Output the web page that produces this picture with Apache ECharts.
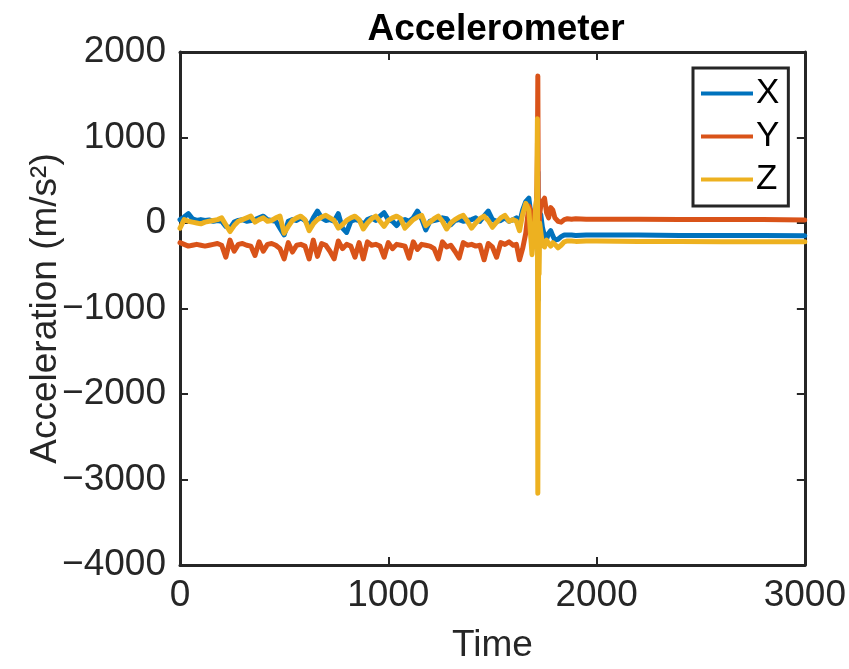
<!DOCTYPE html>
<html>
<head>
<meta charset="utf-8">
<script src="https://cdn.jsdelivr.net/npm/echarts@6/dist/echarts.min.js"></script>
<style>html,body{margin:0;padding:0;background:#fff;}#chart{width:849px;height:669px;}</style>
</head>
<body>
<div id="chart"></div>
<script>
// sample times
const time = [
  0,20,40,60,80,100,120,140,160,180,
  200,220,240,260,280,300,320,340,360,380,
  400,420,440,460,480,500,520,540,560,580,
  600,620,640,660,680,700,720,740,760,780,
  800,820,840,860,880,900,920,940,960,980,
  1000,1020,1040,1060,1080,1100,1120,1140,1160,1180,
  1200,1220,1240,1260,1280,1300,1320,1340,1360,1380,
  1400,1420,1440,1460,1480,1500,1520,1540,1560,1580,
  1600,
  1615,1630,1645,1660,1675,1690,1700,1708,1713,1716,
  1718,1720,1722,1724,1727,1732,1740,1750,1760,1770,
  1780,1790,1800,1815,1830,1845,1860,1880,1900,1950,
  2000,2200,2400,2600,2800,3000
];
const accX = [
  40,70,110,50,30,40,30,35,20,30,
  20,-40,-60,10,30,40,20,30,40,60,
  80,40,30,20,-60,-140,20,40,30,60,
  30,-40,60,140,60,30,40,20,110,-60,
  -110,20,40,30,-20,40,60,30,80,120,
  40,20,-30,30,40,20,60,140,50,-80,
  20,30,40,60,50,-20,30,40,20,30,
  40,60,20,80,140,40,20,30,60,20,
  40,
  60,0,150,250,290,0,-200,100,200,400,
  600,-900,-300,-100,50,100,-50,-150,-190,-120,
  -90,-150,-200,-190,-160,-140,-140,-140,-145,-140,
  -140,-140,-145,-145,-145,-150
];
const accY = [
  -230,-250,-270,-260,-250,-260,-270,-260,-250,-240,
  -260,-400,-200,-330,-250,-240,-260,-270,-380,-220,
  -330,-250,-240,-260,-300,-420,-230,-340,-260,-250,
  -270,-420,-200,-390,-240,-260,-330,-420,-210,-300,
  -250,-270,-400,-230,-420,-220,-260,-250,-270,-400,
  -230,-300,-250,-260,-270,-410,-220,-310,-250,-260,
  -270,-300,-420,-220,-280,-260,-330,-410,-230,-260,
  -250,-270,-260,-430,-240,-280,-400,-230,-250,-220,
  -260,
  -250,-430,-300,-120,200,100,-50,150,300,800,
  1720,300,-200,-100,100,200,250,290,120,60,
  180,150,60,20,10,40,50,45,50,45,
  45,45,40,40,40,35
];
const accZ = [
  -60,40,20,10,0,-10,10,20,30,40,
  60,-20,-100,-30,20,40,60,80,10,40,
  60,20,30,60,80,-120,-40,30,60,80,
  40,-90,-10,40,70,90,60,30,-60,-20,
  30,60,80,40,-70,0,50,80,20,-40,
  30,60,80,50,-60,-10,40,70,90,-30,
  10,50,80,20,-70,0,40,70,90,20,
  -60,0,50,80,30,-50,10,60,90,20,
  40,
  20,-90,100,230,150,-370,-100,200,300,1220,
  -3160,-1220,-400,-600,0,-100,-250,-280,-200,-240,
  -270,-230,-250,-290,-260,-220,-210,-210,-215,-210,
  -210,-215,-215,-220,-220,-220
];
const seriesNames = ['X','Y','Z'];
const xTicks = {min:0, max:3000, interval:1000};
const yTicks = {min:-4000, max:2000, interval:1000};

const colors = ['#0072BD','#D95319','#EDB120'];
const font = 'Liberation Sans, Arial, Helvetica, sans-serif';
const axisCol = '#262626';
const fmt = v => String(v).replace('-', '\u2212');

function pairs(vals){ return time.map((t,i)=>[t, vals[i]]); }

const chart = echarts.init(document.getElementById('chart'), null, {renderer:'canvas'});
const baseAxis = {
  axisLine:{show:true, onZero:false, lineStyle:{color:axisCol, width:3}},
  axisTick:{show:true, inside:true, length:8, lineStyle:{color:axisCol, width:2}},
  splitLine:{show:false}
};
chart.setOption({
  animation:false,
  backgroundColor:'#fff',
  title:{text:'Accelerometer', left:491, top:6, textAlign:'center',
    textStyle:{fontFamily:font, fontSize:37, fontWeight:'bold', color:'#000'}},
  legend:{
    data:seriesNames, orient:'vertical', left:693, top:68,
    icon:'rect', itemWidth:52, itemHeight:4, itemGap:8,
    padding:[8,9,9,8], backgroundColor:'#fff',
    borderColor:axisCol, borderWidth:3, borderRadius:0,
    textStyle:{fontFamily:font, fontSize:35, color:'#000', lineHeight:35, padding:[0,0,0,-2]}
  },
  grid:{left:180, right:43, top:52, bottom:101, show:false},
  xAxis:[
    Object.assign({}, baseAxis, {type:'value', position:'bottom',
      min:xTicks.min, max:xTicks.max, interval:xTicks.interval,
      name:'Time', nameLocation:'middle', nameGap:62, nameMoveOverlap:false,
      nameTextStyle:{fontFamily:font, fontSize:37, color:axisCol},
      axisLabel:{fontFamily:font, fontSize:37, color:axisCol, margin:12, formatter:fmt}}),
    Object.assign({}, baseAxis, {type:'value', position:'top',
      min:xTicks.min, max:xTicks.max, interval:xTicks.interval,
      axisLabel:{show:false}})
  ],
  yAxis:[
    Object.assign({}, baseAxis, {type:'value', position:'left',
      min:yTicks.min, max:yTicks.max, interval:yTicks.interval,
      name:'Acceleration (m/s\u00B2)', nameLocation:'middle', nameGap:116, nameMoveOverlap:false,
      nameTextStyle:{fontFamily:font, fontSize:37, color:axisCol},
      axisLabel:{fontFamily:font, fontSize:37, color:axisCol, margin:14, formatter:fmt}}),
    Object.assign({}, baseAxis, {type:'value', position:'right',
      min:yTicks.min, max:yTicks.max, interval:yTicks.interval,
      axisLabel:{show:false}})
  ],
  series:[accX, accY, accZ].map((vals,i)=>({
    name:seriesNames[i], type:'line', data:pairs(vals),
    xAxisIndex:0, yAxisIndex:0,
    showSymbol:false, symbol:'none',
    lineStyle:{color:colors[i], width:5, join:'round', cap:'round'},
    itemStyle:{color:colors[i]}, clip:true
  }))
});
</script>
</body>
</html>
